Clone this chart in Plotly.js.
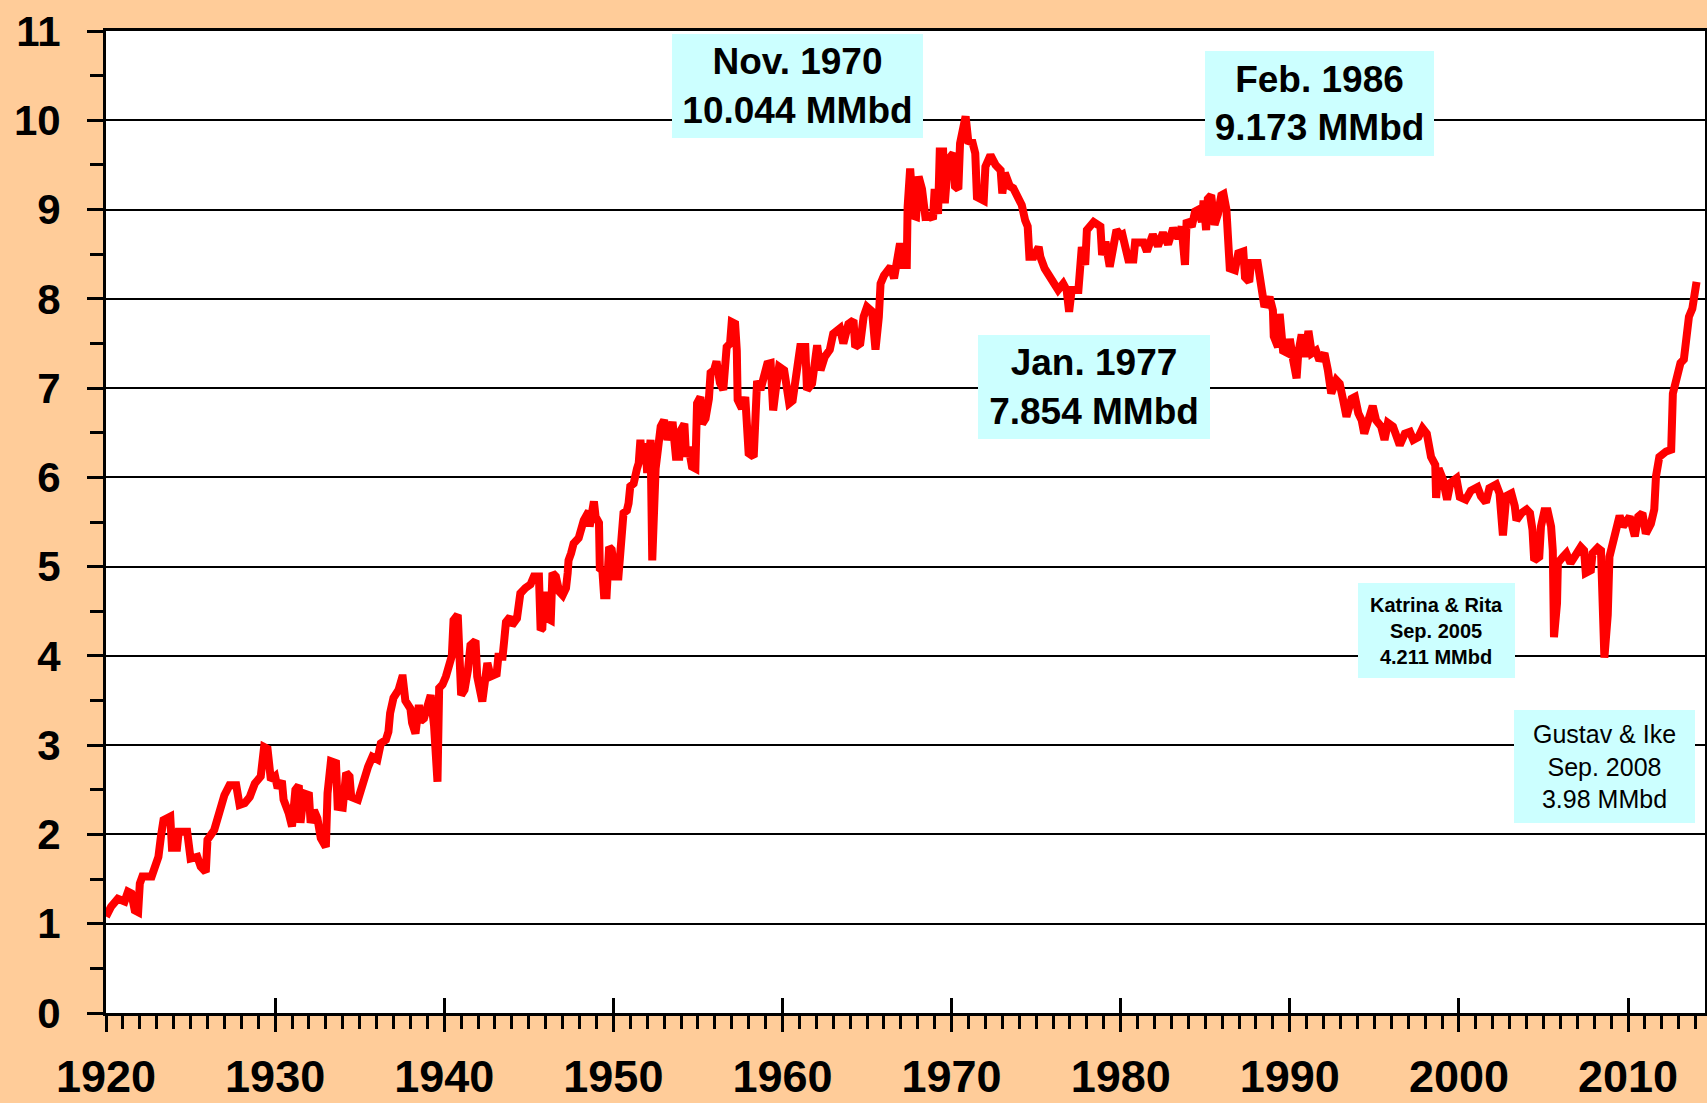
<!DOCTYPE html>
<html>
<head>
<meta charset="utf-8">
<script src="https://cdn.plot.ly/plotly-3.0.1.min.js"></script>
<style>
  html, body { margin: 0; padding: 0; background: #FFCC99; }
  #chart { width: 1707px; height: 1103px; }
</style>
</head>
<body>
<div id="chart"></div>
<script>
// US crude oil field production, MMbd (decimal years)
const years = [
    1920.0, 1920.3, 1920.7, 1921.1, 1921.3, 1921.5, 1921.7, 1921.9, 1922.0, 1922.15, 1922.7, 1922.85,
    1923.1, 1923.25, 1923.4, 1923.8, 1923.9, 1924.2, 1924.3, 1924.8, 1924.9, 1925.0, 1925.4, 1925.6,
    1925.9, 1926.0, 1926.4, 1926.6, 1926.8, 1927.0, 1927.3, 1927.7, 1927.9, 1928.2, 1928.5, 1928.8,
    1929.15, 1929.35, 1929.55, 1929.75, 1930.0, 1930.15, 1930.4, 1930.5, 1930.8, 1931.0, 1931.2, 1931.4,
    1931.5, 1931.7, 1932.0, 1932.1, 1932.3, 1932.5, 1932.7, 1933.0, 1933.1, 1933.3, 1933.6, 1933.7,
    1934.0, 1934.2, 1934.4, 1934.5, 1934.9, 1935.1, 1935.3, 1935.5, 1935.75, 1936.05, 1936.25, 1936.55,
    1936.7, 1936.8, 1937.0, 1937.3, 1937.5, 1937.55, 1937.7, 1938.0, 1938.1, 1938.3, 1938.5, 1938.6,
    1938.8, 1939.0, 1939.2, 1939.4, 1939.6, 1939.7, 1939.9, 1940.1, 1940.3, 1940.45, 1940.55, 1940.8,
    1941.0, 1941.2, 1941.4, 1941.55, 1941.85, 1941.95, 1942.25, 1942.55, 1942.75, 1943.1, 1943.2, 1943.45,
    1943.55, 1943.65, 1943.9, 1944.0, 1944.3, 1944.4, 1944.5, 1944.8, 1945.1, 1945.3, 1945.6, 1945.7,
    1945.8, 1945.9, 1946.1, 1946.3, 1946.4, 1946.6, 1946.8, 1947.0, 1947.2, 1947.3, 1947.35, 1947.5,
    1947.65, 1947.95, 1948.05, 1948.25, 1948.55, 1948.6, 1948.85, 1948.95, 1949.15, 1949.2, 1949.35, 1949.45,
    1949.6, 1949.75, 1949.9, 1950.1, 1950.3, 1950.4, 1950.6, 1950.8, 1950.9, 1951.0, 1951.2, 1951.4,
    1951.5, 1951.6, 1951.7, 1951.9, 1952.0, 1952.2, 1952.3, 1952.5, 1952.6, 1952.8, 1953.0, 1953.2,
    1953.5, 1953.7, 1953.9, 1954.0, 1954.2, 1954.3, 1954.45, 1954.65, 1954.85, 1954.95, 1955.15, 1955.25,
    1955.45, 1955.65, 1955.75, 1955.95, 1956.1, 1956.3, 1956.5, 1956.7, 1956.9, 1957.0, 1957.2, 1957.3,
    1957.35, 1957.6, 1957.8, 1958.0, 1958.3, 1958.5, 1958.7, 1958.9, 1959.1, 1959.3, 1959.45, 1959.6,
    1959.8, 1960.1, 1960.4, 1960.6, 1960.85, 1961.05, 1961.35, 1961.45, 1961.75, 1962.05, 1962.25, 1962.5,
    1962.8, 1963.0, 1963.4, 1963.6, 1963.9, 1964.2, 1964.3, 1964.6, 1964.8, 1965.0, 1965.3, 1965.5,
    1965.7, 1965.8, 1966.0, 1966.4, 1966.6, 1966.8, 1966.95, 1967.15, 1967.35, 1967.4, 1967.55, 1967.75,
    1967.9, 1968.05, 1968.25, 1968.45, 1968.75, 1968.9, 1969.0, 1969.2, 1969.3, 1969.5, 1969.6, 1969.8,
    1970.1, 1970.2, 1970.4, 1970.5, 1970.83, 1971.0, 1971.2, 1971.4, 1971.5, 1971.9, 1972.0, 1972.3,
    1972.6, 1972.9, 1973.0, 1973.15, 1973.45, 1973.65, 1973.95, 1974.15, 1974.35, 1974.5, 1974.6, 1974.85,
    1975.15, 1975.25, 1975.5, 1975.8, 1976.0, 1976.3, 1976.6, 1976.8, 1976.95, 1977.1, 1977.5, 1977.6,
    1977.7, 1977.9, 1978.0, 1978.4, 1978.8, 1978.9, 1979.1, 1979.35, 1979.5, 1979.75, 1980.0, 1980.1,
    1980.45, 1980.75, 1980.85, 1981.35, 1981.55, 1981.9, 1982.2, 1982.5, 1982.8, 1983.1, 1983.4, 1983.6,
    1983.8, 1983.9, 1984.2, 1984.4, 1984.6, 1984.8, 1984.9, 1985.05, 1985.15, 1985.35, 1985.55, 1985.75,
    1985.95, 1986.08, 1986.25, 1986.35, 1986.45, 1986.75, 1986.95, 1987.25, 1987.35, 1987.6, 1987.7, 1988.1,
    1988.3, 1988.5, 1988.8, 1989.0, 1989.05, 1989.3, 1989.4, 1989.6, 1989.9, 1990.0, 1990.2, 1990.4,
    1990.5, 1990.7, 1990.9, 1991.1, 1991.3, 1991.55, 1991.75, 1992.05, 1992.25, 1992.45, 1992.75, 1992.95,
    1993.15, 1993.35, 1993.65, 1993.85, 1994.05, 1994.25, 1994.4, 1994.7, 1994.9, 1995.1, 1995.4, 1995.6,
    1995.8, 1996.1, 1996.3, 1996.5, 1996.8, 1997.1, 1997.3, 1997.6, 1997.85, 1998.1, 1998.35, 1998.6,
    1998.65, 1998.8, 1999.05, 1999.3, 1999.5, 1999.85, 2000.05, 2000.4, 2000.7, 2001.1, 2001.3, 2001.6,
    2001.8, 2002.2, 2002.4, 2002.6, 2002.8, 2003.1, 2003.3, 2003.4, 2003.7, 2004.0, 2004.2, 2004.35,
    2004.45, 2004.75, 2004.85, 2005.05, 2005.25, 2005.45, 2005.55, 2005.62, 2005.8, 2005.85, 2006.15, 2006.35,
    2006.6, 2006.9, 2007.2, 2007.4, 2007.5, 2007.8, 2007.9, 2008.2, 2008.4, 2008.6, 2008.8, 2008.9,
    2009.1, 2009.3, 2009.5, 2009.7, 2010.1, 2010.4, 2010.6, 2010.85, 2011.05, 2011.35, 2011.55, 2011.65,
    2011.85, 2012.25, 2012.55, 2012.65, 2012.85, 2013.1, 2013.3, 2013.4, 2013.6, 2013.8, 2013.9, 2014.05
];
const mmbd = [
    1.08, 1.19, 1.28, 1.25, 1.36, 1.34, 1.15, 1.13, 1.45, 1.53, 1.53, 1.64,
    1.75, 1.98, 2.16, 2.20, 1.85, 1.85, 2.03, 2.03, 1.86, 1.73, 1.75, 1.64,
    1.58, 1.94, 2.05, 2.20, 2.35, 2.44, 2.55, 2.55, 2.33, 2.35, 2.42, 2.57,
    2.65, 2.98, 2.96, 2.61, 2.65, 2.52, 2.60, 2.39, 2.24, 2.09, 2.50, 2.55,
    2.13, 2.46, 2.44, 2.13, 2.27, 2.18, 1.96, 1.86, 2.46, 2.82, 2.80, 2.31,
    2.30, 2.69, 2.65, 2.42, 2.39, 2.54, 2.61, 2.76, 2.87, 2.84, 3.02, 3.06,
    3.15, 3.36, 3.53, 3.62, 3.75, 3.75, 3.50, 3.41, 3.25, 3.13, 3.45, 3.27,
    3.30, 3.45, 3.56, 3.21, 2.59, 3.64, 3.68, 3.77, 3.95, 4.00, 4.40, 4.46,
    3.56, 3.62, 3.84, 4.12, 4.17, 3.77, 3.49, 3.92, 3.77, 3.80, 3.99, 3.99,
    4.18, 4.38, 4.44, 4.34, 4.42, 4.59, 4.70, 4.76, 4.80, 4.89, 4.89, 4.29,
    4.31, 4.72, 4.42, 4.40, 4.93, 4.89, 4.72, 4.68, 4.76, 4.93, 5.07, 5.15,
    5.26, 5.32, 5.41, 5.52, 5.62, 5.45, 5.73, 5.56, 5.49, 4.98, 4.96, 4.68,
    4.68, 5.22, 5.19, 4.89, 4.89, 5.26, 5.60, 5.63, 5.71, 5.90, 5.93, 6.10,
    6.16, 6.42, 6.20, 6.38, 6.05, 6.42, 5.07, 6.10, 6.34, 6.57, 6.64, 6.42,
    6.62, 6.23, 6.23, 6.53, 6.60, 6.23, 6.34, 6.12, 6.10, 6.83, 6.90, 6.60,
    6.66, 6.88, 7.17, 7.20, 7.30, 7.06, 6.98, 7.46, 7.50, 7.74, 7.72, 7.42,
    6.87, 6.77, 6.90, 6.27, 6.23, 7.08, 6.98, 7.17, 7.27, 7.28, 6.75, 6.98,
    7.24, 7.20, 6.83, 6.86, 7.24, 7.46, 7.46, 6.98, 7.05, 7.48, 7.20, 7.35,
    7.43, 7.61, 7.67, 7.50, 7.72, 7.76, 7.46, 7.50, 7.80, 7.91, 7.86, 7.43,
    7.80, 8.17, 8.26, 8.36, 8.23, 8.47, 8.62, 8.38, 8.38, 9.03, 9.46, 8.93,
    8.92, 9.37, 9.23, 8.92, 8.93, 8.89, 9.23, 8.95, 9.65, 9.65, 9.07, 9.56,
    9.63, 9.26, 9.23, 9.74, 10.044, 9.74, 9.78, 9.63, 9.14, 9.10, 9.48, 9.61,
    9.50, 9.44, 9.18, 9.41, 9.26, 9.24, 9.10, 9.05, 8.88, 8.81, 8.47, 8.47,
    8.58, 8.47, 8.34, 8.25, 8.17, 8.10, 8.17, 8.10, 7.854, 8.10, 8.10, 8.40,
    8.58, 8.38, 8.77, 8.86, 8.81, 8.49, 8.64, 8.36, 8.53, 8.77, 8.71, 8.72,
    8.44, 8.44, 8.63, 8.63, 8.53, 8.72, 8.59, 8.74, 8.61, 8.79, 8.68, 8.81,
    8.38, 8.88, 8.81, 8.98, 9.00, 8.86, 9.10, 8.77, 9.12, 9.16, 8.83, 8.95,
    9.16, 9.173, 9.00, 8.58, 8.34, 8.32, 8.51, 8.53, 8.24, 8.19, 8.40, 8.40,
    8.14, 7.91, 8.02, 7.87, 7.58, 7.46, 7.83, 7.42, 7.39, 7.55, 7.31, 7.11,
    7.39, 7.60, 7.35, 7.64, 7.39, 7.42, 7.31, 7.39, 7.20, 6.94, 7.09, 7.05,
    6.87, 6.68, 6.88, 6.90, 6.72, 6.64, 6.49, 6.72, 6.80, 6.64, 6.57, 6.42,
    6.61, 6.57, 6.46, 6.36, 6.49, 6.51, 6.42, 6.45, 6.55, 6.49, 6.23, 6.14,
    5.77, 6.10, 5.98, 5.75, 5.94, 5.99, 5.78, 5.75, 5.85, 5.89, 5.79, 5.72,
    5.88, 5.92, 5.82, 5.35, 5.79, 5.82, 5.68, 5.52, 5.60, 5.64, 5.60, 5.41,
    5.07, 5.11, 5.45, 5.62, 5.62, 5.45, 5.18, 4.211, 4.59, 5.04, 5.11, 5.15,
    5.04, 5.13, 5.22, 5.18, 4.93, 4.96, 5.15, 5.21, 5.18, 3.98, 4.46, 5.11,
    5.26, 5.35, 5.57, 5.45, 5.56, 5.34, 5.56, 5.60, 5.37, 5.48, 5.64, 6.01,
    6.23, 6.29, 6.31, 6.94, 7.10, 7.28, 7.32, 7.56, 7.80, 7.89, 8.10, 8.19
];

const decadeTicks = [1920, 1930, 1940, 1950, 1960, 1970, 1980, 1990, 2000, 2010];
const decadeLabels = ['1920', '1930', '1940', '1950', '1960', '1970', '1980', '1990', '2000', '2010'];
const yTicks = [0, 1, 2, 3, 4, 5, 6, 7, 8, 9, 10, 11];

// Callout boxes
const noteLines = [
    ['Nov. 1970', '10.044 MMbd'],
    ['Feb. 1986', '9.173 MMbd'],
    ['Jan. 1977', '7.854 MMbd'],
    ['Katrina & Rita', 'Sep. 2005', '4.211 MMbd'],
    ['Gustav & Ike', 'Sep. 2008', '3.98 MMbd']
];
const noteX = [1960.9, 1991.74, 1978.42, 1998.65, 2008.63];
const noteY = [10.38, 10.19, 7.01, 4.285, 2.76];

const FONT = 'Liberation Sans, Arial, sans-serif';
const noteStyle = [
    { w: 251, h: 104, size: 37, weight: 'bold' },
    { w: 229, h: 105, size: 37, weight: 'bold' },
    { w: 232, h: 104, size: 37, weight: 'bold' },
    { w: 157, h: 95, size: 20, weight: 'bold' },
    { w: 181, h: 113, size: 25, weight: 'normal' }
];

const annotations = noteLines.map((lines, i) => ({
    xref: 'x', yref: 'y',
    x: noteX[i], y: noteY[i],
    xanchor: 'center', yanchor: 'middle',
    text: lines.join('<br>'),
    showarrow: false,
    width: noteStyle[i].w, height: noteStyle[i].h,
    bgcolor: '#CCFFFF', borderpad: 0, borderwidth: 0,
    font: { family: FONT, size: noteStyle[i].size, color: '#000', weight: noteStyle[i].weight }
}));

const traces = [{
    x: years,
    y: mmbd,
    type: 'scatter',
    mode: 'lines',
    line: { color: '#FF0000', width: 8 },
    hoverinfo: 'skip',
    showlegend: false
}, {
    // empty trace so the inner half of the decade ticks gets drawn
    x: [null], y: [null],
    xaxis: 'x2', yaxis: 'y',
    type: 'scatter', mode: 'lines',
    hoverinfo: 'skip', showlegend: false
}];

const xRange = [1920, 2014.55];

const layout = {
    width: 1707,
    height: 1103,
    paper_bgcolor: '#FFCC99',
    plot_bgcolor: '#FFFFFF',
    margin: { l: 106, r: 2, t: 31, b: 90 },
    showlegend: false,
    xaxis: {
        range: xRange,
        tickmode: 'array',
        tickvals: decadeTicks,
        ticktext: decadeLabels,
        ticks: 'outside', ticklen: 16, tickwidth: 3, tickcolor: '#000',
        showline: true, linewidth: 3, linecolor: '#000', mirror: true,
        showgrid: false, zeroline: false,
        ticklabelstandoff: 6,
        tickfont: { family: FONT, size: 45, color: '#000', weight: 'bold' },
        minor: { dtick: 1, tick0: 1920, ticks: 'outside', ticklen: 13, tickwidth: 3, tickcolor: '#000', showgrid: false }
    },
    xaxis2: {
        overlaying: 'x', anchor: 'y', side: 'bottom',
        range: xRange,
        tickmode: 'array',
        tickvals: decadeTicks,
        ticks: 'inside', ticklen: 15, tickwidth: 3, tickcolor: '#000',
        showticklabels: false, showline: false, showgrid: false, zeroline: false
    },
    yaxis: {
        range: [0, 11],
        tickmode: 'array',
        tickvals: yTicks,
        ticks: 'outside', ticklen: 16, tickwidth: 3, tickcolor: '#000',
        showline: true, linewidth: 3, linecolor: '#000', mirror: true,
        showgrid: true, gridcolor: '#000', gridwidth: 2,
        zeroline: false,
        ticklabelstandoff: 18,
        tickfont: { family: FONT, size: 42, color: '#000', weight: 'bold' },
        minor: { dtick: 0.5, tick0: 0, ticks: 'outside', ticklen: 13, tickwidth: 3, tickcolor: '#000', showgrid: false }
    },
    annotations: annotations
};

Plotly.newPlot('chart', traces, layout, { displayModeBar: false, staticPlot: true });
</script>
</body>
</html>
